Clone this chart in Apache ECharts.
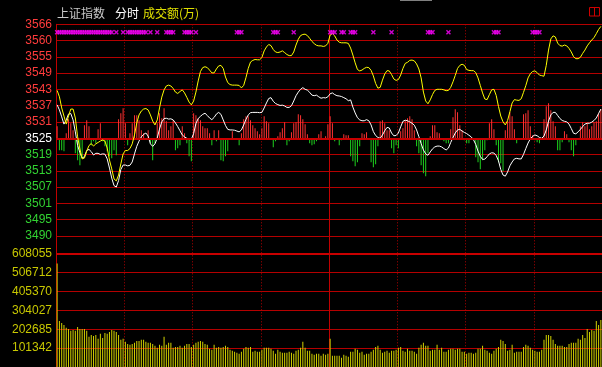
<!DOCTYPE html>
<html><head><meta charset="utf-8">
<script src="https://cdn.jsdelivr.net/npm/echarts@6/dist/echarts.min.js"></script>
<style>html,body{margin:0;padding:0;background:#000;overflow:hidden}#c{width:602px;height:367px}</style>
</head><body><div id="c"></div>
<script>
// ---- tick labels ----
const priceTicks = ['3490','3495','3501','3507','3513','3519','3525','3531','3537','3543','3549','3555','3560','3566'];
const volumeTicks = ['0','101342','202685','304027','405370','506712','608055'];
const prevClose = 3525.3;
const priceStep = 5.85;
const volumeMax = 608055;
const sessionMinutes = 240;
const halfHour = 30;
const sessionBreak = 120;
const signalLevel = 3563.4;

// ---- series (one value per minute) ----
const leadLine = [
3542.5,3540.2,3536.2,3533.3,3530.4,3533.3,3535.8,3535.8,3532.6,3525.8,
3521.5,3517.9,3518.2,3520.7,3522.7,3523.4,3522.5,3523.3,3523.8,3524.3,
3524.7,3524.3,3521.8,3517.5,3514.3,3510.7,3510.0,3512.1,3516.1,3519.7,
3520.9,3520.9,3521.6,3523.3,3526.5,3530.8,3533.7,3535.1,3535.8,3536.0,
3535.5,3533.7,3531.5,3530.1,3531.9,3536.2,3540.1,3542.7,3544.1,3544.4,
3544.1,3543.2,3541.9,3541.4,3542.1,3542.7,3541.6,3540.0,3538.3,3537.3,
3538.7,3541.9,3545.9,3549.3,3550.7,3551.0,3550.7,3549.8,3548.8,3548.8,
3550.2,3551.3,3551.5,3550.4,3547.3,3545.3,3544.6,3544.4,3544.4,3544.4,
3544.3,3543.4,3544.3,3547.1,3550.4,3552.7,3553.3,3553.6,3553.5,3553.5,
3554.3,3556.7,3558.1,3559.0,3558.6,3557.2,3556.3,3556.1,3556.3,3556.7,
3556.1,3555.4,3555.0,3555.0,3556.3,3558.8,3560.9,3562.2,3562.6,3562.7,
3562.2,3561.2,3560.1,3559.3,3558.7,3558.5,3558.5,3558.3,3558.5,3559.4,
3562.4,3562.9,3562.1,3560.6,3559.8,3559.6,3559.6,3559.6,3559.4,3557.7,
3555.2,3552.4,3550.0,3549.5,3549.8,3550.4,3550.8,3550.7,3549.7,3547.7,
3545.0,3543.3,3543.6,3546.2,3548.4,3549.6,3549.5,3548.2,3546.6,3546.1,
3546.4,3548.0,3550.4,3552.2,3552.6,3553.3,3553.4,3553.1,3552.0,3550.2,
3547.0,3541.9,3538.7,3537.7,3539.1,3541.0,3542.5,3542.9,3542.9,3542.9,
3542.7,3542.4,3542.5,3543.6,3545.6,3547.9,3550.4,3551.5,3551.9,3551.5,
3550.0,3549.7,3549.6,3549.6,3548.9,3547.0,3544.3,3541.6,3539.4,3539.2,
3541.0,3542.7,3542.9,3540.7,3536.7,3533.3,3531.2,3530.1,3531.7,3534.8,
3538.0,3539.2,3539.0,3538.9,3539.5,3541.8,3544.2,3547.0,3548.5,3549.3,
3549.5,3548.9,3548.0,3547.8,3547.6,3551.5,3557.0,3561.0,3562.1,3561.7,
3559.5,3558.6,3558.4,3558.8,3558.5,3557.6,3556.3,3554.6,3553.9,3553.9,
3554.4,3555.8,3557.0,3558.5,3559.6,3560.6,3561.5,3562.9,3564.4,3565.5];

const indexLine = [
3537.3,3535.5,3533.0,3530.4,3531.9,3534.0,3534.2,3531.9,3527.6,3522.7,
3520.2,3518.2,3518.7,3520.9,3521.3,3520.5,3519.3,3519.9,3519.9,3519.5,
3519.7,3519.6,3517.9,3514.6,3511.0,3508.3,3507.8,3510.1,3514.1,3515.7,
3515.7,3515.4,3515.6,3516.8,3519.7,3522.4,3524.3,3525.8,3526.7,3527.2,
3526.1,3523.3,3522.4,3523.3,3525.4,3528.6,3531.2,3532.4,3532.5,3532.2,
3532.3,3531.9,3530.8,3529.5,3528.0,3526.5,3525.8,3525.3,3524.8,3524.9,
3527.0,3530.6,3532.4,3533.2,3533.9,3534.3,3533.5,3532.6,3532.0,3532.8,
3534.0,3534.6,3533.9,3531.9,3529.9,3528.5,3528.3,3528.3,3528.2,3527.9,
3527.6,3528.3,3530.1,3532.1,3533.7,3534.5,3534.6,3534.6,3534.6,3534.5,
3534.6,3536.2,3538.0,3539.6,3539.9,3538.6,3537.8,3537.4,3537.1,3537.2,
3536.9,3536.4,3536.4,3537.0,3538.7,3540.6,3541.9,3542.9,3543.5,3542.9,
3542.6,3541.8,3540.8,3540.6,3540.8,3540.2,3539.7,3539.9,3539.8,3540.2,
3541.3,3541.6,3541.0,3540.6,3540.5,3540.3,3539.9,3539.5,3538.8,3539.1,
3536.5,3534.4,3532.7,3531.9,3531.6,3531.6,3532.0,3531.6,3530.1,3527.7,
3526.3,3525.6,3525.3,3526.5,3528.0,3529.2,3529.0,3527.2,3526.2,3526.3,
3527.2,3529.4,3531.4,3531.8,3531.6,3531.2,3530.7,3530.0,3528.3,3525.9,
3523.4,3521.1,3519.7,3519.2,3520.4,3521.5,3522.2,3522.5,3522.5,3522.2,
3521.6,3521.1,3521.8,3523.8,3525.6,3527.2,3528.3,3528.5,3527.9,3527.4,
3527.0,3526.4,3525.8,3524.8,3523.1,3520.7,3518.8,3517.7,3517.8,3518.7,
3519.7,3520.1,3520.0,3519.1,3517.2,3514.1,3512.1,3511.7,3513.2,3515.4,
3516.8,3517.9,3518.1,3517.9,3517.9,3519.5,3521.6,3523.6,3525.1,3526.0,
3526.5,3526.2,3525.6,3525.3,3526.1,3528.3,3531.5,3533.7,3534.6,3534.6,
3533.5,3532.4,3531.7,3531.4,3531.2,3530.4,3528.8,3527.1,3526.9,3527.6,
3528.5,3529.5,3530.4,3530.7,3530.7,3531.1,3531.7,3532.6,3534.2,3535.8];

// buy/sell strength bars (arbitrary units, 16.28 units per grid row)
const flow = [
12,-12,-12,-13,5,19,15,8,-15,-22,
-27,-20,13,18,12,-7,-3,-5,9,15,
-3,-8,-13,-18,-20,-12,-17,19,25,30,
15,-7,5,15,23,23,18,8,5,0,
8,-5,-22,-5,15,25,20,30,17,8,
12,18,-12,-10,-7,12,5,-5,-18,-23,
25,23,20,18,12,10,10,5,-7,8,
-3,8,-22,-23,-18,-13,0,7,0,0,
-7,5,19,22,22,18,13,10,7,4,
10,22,17,15,0,-9,-3,2,6,10,
16,-7,-3,6,15,16,24,23,19,14,
4,-5,-7,-6,-3,4,7,0,2,14,
22,15,-3,0,-7,-2,4,3,3,-18,
-23,-28,-24,-8,5,4,6,-1,-24,-29,
-26,-8,17,18,15,8,8,-10,-15,-7,
-10,7,10,18,20,22,19,8,-8,-15,
-27,-35,-38,-15,2,13,13,6,5,0,
-3,-5,-5,9,21,29,26,13,8,-2,
-5,-5,0,0,-19,-24,-31,-22,-12,-2,
15,19,9,-7,-24,-25,-33,8,17,26,
22,9,-5,0,0,24,25,28,12,3,
-2,-4,-5,0,19,32,35,28,17,12,
-12,-12,-4,7,4,-4,-12,-18,-7,0,
12,16,12,15,9,12,16,17,25,29];
const flowUnitsPerStep = 16.28;

const volume = [
556000,247000,236000,226000,210000,204000,194000,199000,194000,215000,
204000,204000,204000,194000,162000,172000,167000,172000,151000,178000,
156000,183000,178000,188000,199000,194000,188000,172000,146000,151000,
135000,124000,119000,124000,130000,140000,140000,146000,146000,135000,
130000,130000,124000,114000,103000,119000,114000,162000,119000,130000,
130000,103000,108000,108000,114000,103000,114000,124000,124000,108000,
119000,130000,135000,140000,135000,124000,119000,98000,92000,119000,
103000,108000,103000,108000,114000,108000,92000,87000,82000,76000,
71000,82000,98000,108000,103000,108000,82000,87000,82000,82000,
92000,103000,103000,103000,98000,87000,71000,92000,82000,76000,
76000,76000,82000,76000,71000,87000,92000,103000,135000,103000,
87000,87000,71000,66000,71000,71000,60000,71000,66000,71000,
151000,60000,60000,60000,60000,50000,66000,60000,55000,82000,
82000,98000,92000,76000,82000,66000,71000,71000,82000,92000,
108000,114000,92000,76000,82000,87000,76000,87000,87000,92000,
103000,108000,87000,82000,98000,87000,87000,82000,71000,103000,
119000,130000,114000,114000,87000,92000,92000,119000,92000,103000,
82000,82000,92000,98000,98000,92000,98000,98000,82000,82000,
71000,76000,76000,71000,76000,98000,98000,114000,92000,87000,
76000,71000,87000,98000,108000,146000,140000,124000,87000,92000,
119000,76000,82000,82000,82000,108000,119000,114000,103000,92000,
87000,82000,82000,92000,146000,172000,172000,167000,146000,124000,
114000,114000,114000,108000,108000,124000,130000,130000,130000,151000,
146000,172000,156000,204000,188000,199000,194000,247000,226000,252000];

// minutes with a signal marker
const signalMinutes = [0,1,2,3,4,5,6,7,8,9,10,11,12,13,14,15,16,17,18,19,20,21,22,23,24,
26,29,31,32,33,34,35,36,37,38,39,41,44,48,49,50,51,56,57,58,59,61,79,80,81,
95,96,97,104,120,121,122,125,126,129,130,131,139,147,163,164,165,172,192,193,194,209,210,211,212];

// ---- build ----
const at = (arr) => arr.map((v, i) => [i + 0.5, v]);
const priceMin = prevClose - 6 * priceStep;
const priceMax = prevClose + 7 * priceStep;

const RED = '#ff3c3c', GREEN = '#32d232', GRID = '#b40000';
const FONT = 'Liberation Sans';

const chart = echarts.init(document.getElementById('c'), null, {renderer: 'canvas'});
chart.setOption({
  backgroundColor: '#000000',
  animation: false,
  grid: [
    {left: 56, right: 0, top: 24.3, height: 211.7},
    {left: 56, right: 0, top: 253.7, bottom: 0},
    {left: 56, right: 0, top: 24.3, bottom: 0}
  ],
  xAxis: [
    {type: 'value', gridIndex: 0, min: 0, max: sessionMinutes, show: false},
    {type: 'value', gridIndex: 1, min: 0, max: sessionMinutes, show: false},
    {type: 'value', gridIndex: 2, min: 0, max: sessionMinutes, interval: halfHour,
     axisLine: {show: false}, axisTick: {show: false}, axisLabel: {show: false},
     splitLine: {show: true, showMinLine: false, showMaxLine: false,
       lineStyle: {color: '#b00000', width: 1, type: [1, 2]}}},
    {type: 'value', gridIndex: 2, min: 0, max: sessionMinutes, interval: sessionBreak,
     axisLine: {show: false}, axisTick: {show: false}, axisLabel: {show: false},
     splitLine: {show: true, showMinLine: false, showMaxLine: false,
       lineStyle: {color: '#c00000', width: 1, type: 'solid'}}}
  ],
  yAxis: [
    {type: 'value', gridIndex: 0, min: priceMin, max: priceMax, interval: priceStep,
     axisLine: {show: false}, axisTick: {show: false},
     splitLine: {show: true, lineStyle: {color: GRID, width: 1}},
     axisLabel: {
       margin: 4, showMinLabel: true, showMaxLabel: true,
       formatter: (v, idx) => {
         const k = Math.round((v - priceMin) / priceStep);
         const t = priceTicks[k];
         return k < 6 ? '{g|' + t + '}' : (k === 6 ? '{w|' + t + '}' : '{r|' + t + '}');
       },
       rich: {
         r: {color: RED, fontFamily: FONT, fontSize: 12},
         g: {color: GREEN, fontFamily: FONT, fontSize: 12},
         w: {color: '#ffffff', fontFamily: FONT, fontSize: 12}
       }
     }},
    {type: 'value', gridIndex: 0, min: -6 * flowUnitsPerStep, max: 7 * flowUnitsPerStep, show: false},
    {type: 'value', gridIndex: 1, min: 0, max: volumeMax, interval: volumeMax / 6,
     axisLine: {show: false}, axisTick: {show: false},
     splitLine: {show: true, lineStyle: {color: GRID, width: 1}},
     axisLabel: {margin: 4, showMinLabel: false, showMaxLabel: true,
       color: '#c8c800', fontFamily: FONT, fontSize: 12,
       formatter: (v) => volumeTicks[Math.round(v / (volumeMax / 6))]}},
    {type: 'value', gridIndex: 2, min: 0, max: 1,
     axisLine: {show: true, lineStyle: {color: '#c00000', width: 1}},
     axisTick: {show: false}, axisLabel: {show: false}, splitLine: {show: false}}
  ],
  series: [
    {type: 'bar', xAxisIndex: 0, yAxisIndex: 1, barWidth: 1, data: at(flow),
     itemStyle: {color: (p) => p.value[1] >= 0 ? '#ff3232' : '#1ed21e'}, z: 3},
    {type: 'line', xAxisIndex: 0, yAxisIndex: 0, data: at(indexLine), symbol: 'none',
     lineStyle: {color: '#ffffff', width: 1}, z: 4,
     markLine: {silent: true, symbol: 'none', label: {show: false},
       lineStyle: {color: '#c80000', width: 2, type: 'solid'},
       data: [{yAxis: prevClose}]}},
    {type: 'line', xAxisIndex: 0, yAxisIndex: 0, data: at(leadLine), symbol: 'none',
     lineStyle: {color: '#ffff00', width: 1}, z: 5},
    {type: 'scatter', xAxisIndex: 0, yAxisIndex: 0,
     data: signalMinutes.map(m => [m + 0.5, signalLevel]),
     symbol: 'path://M0 1L1 0L2.5 1.5L4 0L5 1L3.5 2.5L5 4L4 5L2.5 3.5L1 5L0 4L1.5 2.5Z',
     symbolSize: 5, itemStyle: {color: '#ff00ff'}, z: 6},
    {type: 'bar', xAxisIndex: 1, yAxisIndex: 2, barWidth: 1, data: at(volume),
     itemStyle: {color: '#d2d200'}, z: 3,
     markLine: {silent: true, symbol: 'none', label: {show: false},
       lineStyle: {color: '#c80000', width: 2, type: 'solid'},
       data: [{yAxis: volumeMax}]}}
  ],
  graphic: [
    {type: 'text', x: 57, y: 13, style: {text: '上证指数', fill: '#c8c8c8', font: '12px "Noto Sans CJK SC"', verticalAlign: 'middle'}},
    {type: 'text', x: 115, y: 13, style: {text: '分时', fill: '#ffffff', font: '12px "Noto Sans CJK SC"', verticalAlign: 'middle'}},
    {type: 'text', x: 143, y: 13, style: {text: '成交额(万)', fill: '#e0e000', font: '12px "Noto Sans CJK SC"', verticalAlign: 'middle'}},
    {type: 'rect', shape: {x: 589.5, y: 7.5, width: 10, height: 8.5}, style: {fill: 'none', stroke: '#d00000', lineWidth: 1}},
    {type: 'line', shape: {x1: 594.5, y1: 7.5, x2: 594.5, y2: 16}, style: {stroke: '#d00000', lineWidth: 1}},
    {type: 'rect', shape: {x: 400, y: 0, width: 32, height: 1}, style: {fill: '#808080'}}
  ]
});
</script>
</body></html>
